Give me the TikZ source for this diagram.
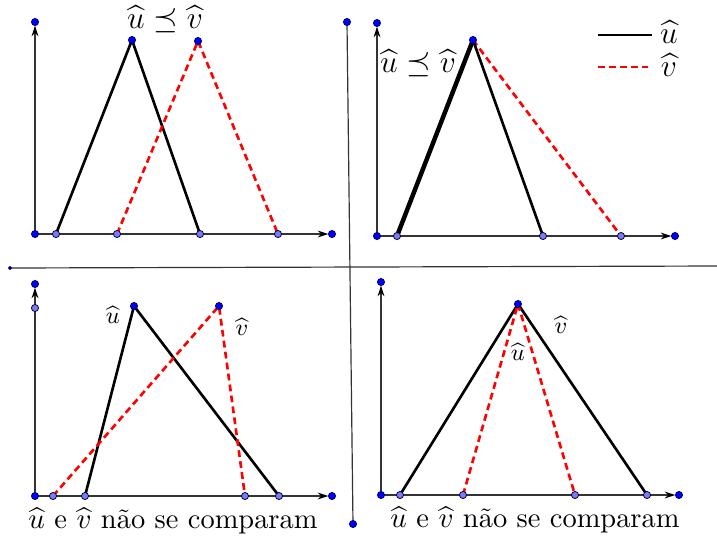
\documentclass[tikz,border=0pt]{standalone}
\usepackage{amsmath,amssymb}
\usetikzlibrary{arrows.meta}
\definecolor{ptblue}{HTML}{0000FF}
\definecolor{ptlight}{HTML}{7B7BF5}
\definecolor{axgray}{HTML}{333333}

\begin{document}
\begin{tikzpicture}[x=0.38pt,y=-0.38pt,>={Stealth[length=4pt,width=2.6pt,black]},
  dk/.style={circle,draw=ptblue!45!black,fill=ptblue,inner sep=0pt,minimum size=2.7pt,line width=0.3pt},
  lt/.style={circle,draw=ptblue!25!black,fill=ptlight,inner sep=0pt,minimum size=2.7pt,line width=0.3pt},
  ax/.style={axgray,line width=0.45pt},
  fu/.style={black,line width=1pt},
  fv/.style={red,line width=1pt,dash pattern=on 2.6pt off 1.6pt},
  lbl/.style={font=\large,inner sep=0.5pt},
  captxt/.style={font=\fontsize{10.8}{13}\selectfont,inner sep=0.5pt},
  sml/.style={font=\small,inner sep=0.5pt}]
\useasboundingbox (0,0) rectangle (717,540);

% separators
\coordinate (hl) at (10,268);  \coordinate (hr) at (717,266);
\coordinate (vt) at (347,22);  \coordinate (vb) at (353,524);
\draw[ax] (hl) -- (hr);
\draw[ax] (vt) -- (vb);

% top left
\coordinate (o1) at (35,234); \coordinate (y1) at (35,22); \coordinate (x1) at (332,234);
\coordinate (ua1) at (56,234); \coordinate (up1) at (132,40); \coordinate (ub1) at (200,234);
\coordinate (va1) at (117,234); \coordinate (vp1) at (198,41); \coordinate (vb1) at (278,234);
\draw[ax,->,shorten >=1.4pt] (o1) -- (y1);
\draw[ax,->,shorten >=1.4pt] (o1) -- (x1);
\draw[fu] (ua1) -- (up1) -- (ub1);
\draw[fv] (va1) -- (vp1) -- (vb1);
\node[lbl] (t1) at (165,19) {$\widehat{u}\preceq\widehat{v}$};

% top right
\coordinate (o2) at (377,236); \coordinate (y2) at (377,23); \coordinate (x2) at (675,236);
\coordinate (ua2) at (397,236); \coordinate (up2) at (473,40); \coordinate (ub2) at (543,236);
\coordinate (vb2) at (621,236);
\draw[ax,->,shorten >=1.4pt] (o2) -- (y2);
\draw[ax,->,shorten >=1.4pt] (o2) -- (x2);
\draw[fv] (ua2) -- (up2) -- (vb2);
\draw[fu] (up2) -- (ub2);
\draw[fu,line width=1.7pt] (ua2) -- (up2);
\node[lbl] (t2) at (418,63) {$\widehat{u}\preceq\widehat{v}$};
\coordinate (lu1) at (598,35); \coordinate (lu2) at (652,35);
\coordinate (lv1) at (598,67); \coordinate (lv2) at (648,67);
\draw[fu] (lu1) -- (lu2);
\draw[fv] (lv1) -- (lv2);
\node[lbl] (ku) at (669,32) {$\widehat{u}$};
\node[lbl] (kv) at (669,65) {$\widehat{v}$};

% bottom left
\coordinate (o3) at (35,496); \coordinate (y3) at (35,284); \coordinate (x3) at (332,496);
\coordinate (ua3) at (85,496); \coordinate (up3) at (134,306); \coordinate (ub3) at (279,496);
\coordinate (va3) at (53,496); \coordinate (vp3) at (219,306); \coordinate (vb3) at (245,496);
\draw[ax,->,shorten >=1.4pt] (o3) -- (y3);
\draw[ax,->,shorten >=1.4pt] (o3) -- (x3);
\draw[fu] (ua3) -- (up3) -- (ub3);
\draw[fv] (va3) -- (vp3) -- (vb3);
\node[sml] (su3) at (113,315) {$\widehat{u}$};
\node[sml] (sv3) at (242,327) {$\widehat{v}$};
\node[captxt] (c3) at (173,521) {$\widehat{u}$ e $\widehat{v}$ não se comparam};

% bottom right
\coordinate (o4) at (381,495); \coordinate (y4) at (381,282); \coordinate (x4) at (679,495);
\coordinate (ua4) at (400,495); \coordinate (up4) at (518,304); \coordinate (ub4) at (647,495);
\coordinate (va4) at (463,495); \coordinate (vb4) at (575,495);
\draw[ax,->,shorten >=1.4pt] (o4) -- (y4);
\draw[ax,->,shorten >=1.4pt] (o4) -- (x4);
\draw[fu] (ua4) -- (up4) -- (ub4);
\draw[fv] (va4) -- (up4) -- (vb4);
\node[sml] (sv4) at (561,325) {$\widehat{v}$};
\node[sml] (su4) at (518,352) {$\widehat{u}$};
\node[captxt] (c4) at (535,520) {$\widehat{u}$ e $\widehat{v}$ não se comparam};

% points
\foreach \p in {vt,vb,o1,y1,x1,up1,vp1,o2,y2,x2,up2,o3,y3,x3,up3,vp3,o4,y4,x4,up4}
  \node[dk] (d\p) at (\p) {};
\foreach \p in {ua1,ub1,va1,vb1,ua2,ub2,vb2,ua3,ub3,va3,vb3,ua4,ub4,va4,vb4}
  \node[lt] (d\p) at (\p) {};
\node[lt] (dm3) at (35,308) {};
\node[dk,minimum size=1.2pt] (dhl) at (hl) {};
\end{tikzpicture}
\end{document}
